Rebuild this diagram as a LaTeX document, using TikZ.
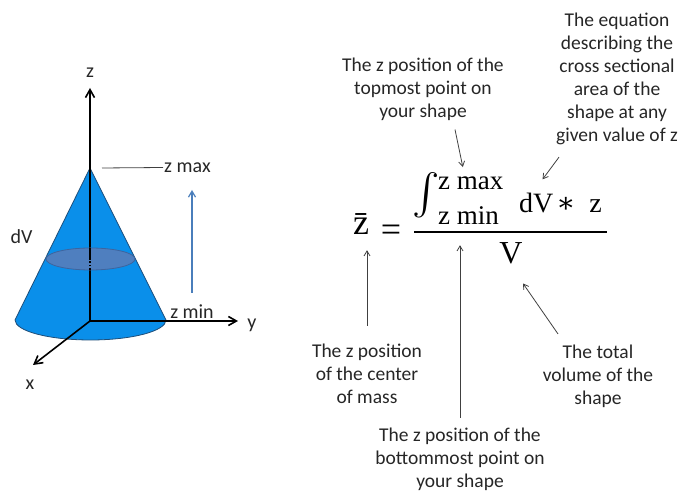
\documentclass[tikz,border=0pt]{standalone}
\usepackage{fontspec}
\setmainfont{Carlito}
\newfontfamily\eqfont{Liberation Serif}
\newfontfamily\opfont{DejaVu Serif}
\usetikzlibrary{arrows.meta}
\definecolor{coneblue}{HTML}{0A8FEA}
\definecolor{coneline}{HTML}{1F4E79}
\definecolor{slicefill}{HTML}{4F7FBF}
\definecolor{sliceline}{HTML}{3E649E}
\definecolor{riseblue}{HTML}{4A7EBB}
\definecolor{notegray}{HTML}{404040}

\begin{document}
\begin{tikzpicture}[x=1pt,y=1pt,
    axis/.style={line width=1.6pt,-{Straight Barb[length=8pt,width=9pt]}},
    note/.style={notegray,line width=.8pt,-{Straight Barb[length=5pt,width=6pt]}},
    lbl/.style={align=center,inner sep=2pt,text=black!85,font=\fontsize{19.5}{23}\selectfont},
    axlbl/.style={inner sep=1pt,text=black!85,font=\fontsize{20}{24}\selectfont},
    eq/.style={inner sep=1pt,font=\eqfont\fontsize{27}{30}\selectfont}]
\useasboundingbox (0,0) rectangle (683,492);

% the cone
\coordinate (O) at (90,171);
\coordinate (top) at (90,324);
\fill[coneblue] (top) -- (166,172) arc[start angle=0,end angle=-180,x radius=75.5,y radius=20] -- cycle;
\draw[coneline,line width=.8pt] (15,172) -- (top) -- (166,172)
    arc[start angle=0,end angle=-180,x radius=75.5,y radius=20];

% axes
\draw[axis] (O) -- (90,404);
\draw[axis] (O) -- (238,171);
\draw[axis] (O) -- (33,127);
\node[axlbl] (zlbl) at (90,419) {z};
\node[axlbl] (ylbl) at (252,167) {y};
\node[axlbl] (xlbl) at (30,107) {x};

% slice dV
\coordinate (slice) at (90.5,233);
\filldraw[fill=slicefill,draw=sliceline,line width=.8pt] (slice) ellipse[x radius=44.5,y radius=11];
\draw[line width=1.6pt] (90,233) -- (90,244);
\draw[line width=1.6pt,dotted] (90,222) -- (90,233);
\node[axlbl] (dv) at (21.5,255.5) {dV};

% limits
\node[axlbl,anchor=west] (zmaxlbl) at (163,324.5) {z max};
\draw[notegray,line width=.8pt] ([xshift=12pt]top) -- (zmaxlbl.west);
\node[axlbl] (zminlbl) at (192,180) {z min};
\coordinate (rise0) at (192,199);
\coordinate (rise1) at (192,302);
\draw[riseblue,line width=1.2pt,-{Straight Barb[length=6pt,width=7pt]}] (rise0) -- (rise1);

% the formula
\node[inner sep=1pt,font=\eqfont\fontsize{36}{40}\selectfont,anchor=base] (zbar) at (361,257) {\={z}};
\node[inner sep=1pt,font=\eqfont\fontsize{36}{40}\selectfont] (eqsign) at (391,259) {=};
\node[inner sep=0pt] (intsign) at (426,297) {\scalebox{4.1}{$\int$}};
\node[eq,anchor=base west] (zmax) at (437,302) {z max};
\node[eq,anchor=base west] (zmin) at (437,267) {z min};
\node[eq,anchor=base west,font=\eqfont\fontsize{28}{30}\selectfont] (dvz) at (518,279) {dV\hspace{3pt}{\opfont ∗}\hspace{14pt}z};
\draw[line width=1.3pt] (414,260) -- (607,260);
\node[inner sep=1pt,font=\eqfont\fontsize{32}{36}\selectfont] (den) at (511,238.5) {V};

% notes
\node[lbl] (lblTop) at (423,403) {The z position of the\\topmost point on\\your shape};
\node[lbl] (lblEq) at (617,413) {The equation\\describing the\\cross sectional\\area of the\\shape at any\\given value of z};
\node[lbl] (lblCM) at (367,118) {The z position\\of the center\\of mass};
\node[lbl] (lblVol) at (598,115.5) {The total\\volume of the\\shape};
\node[lbl] (lblBot) at (460,32.5) {The z position of the\\bottommost point on\\your shape};

\draw[note] ([xshift=32pt,yshift=-7pt]lblTop.south) -- ([xshift=-8pt,yshift=9pt]zmax.north);
\draw[note] ([xshift=-58pt,yshift=-10pt]lblEq.south) -- ([xshift=-18pt,yshift=13pt]dvz.north);
\draw[note] ([yshift=16pt]lblCM.north) -- ([yshift=-14pt]lblCM.north |- zbar.south);
\draw[note] ([yshift=8pt]lblBot.north) -- ([yshift=-19pt]lblBot.north |- zmin.south);
\draw[note] ([xshift=-40pt,yshift=9pt]lblVol.north) -- ([xshift=12pt,yshift=-18pt]den.south);
\end{tikzpicture}
\end{document}
